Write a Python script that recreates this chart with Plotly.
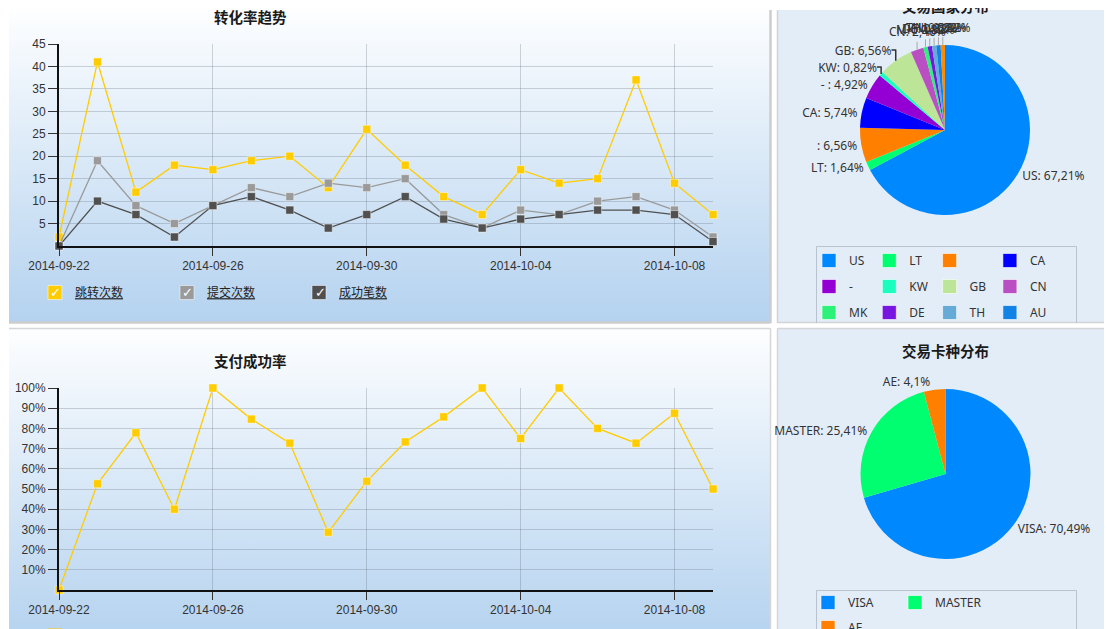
import math
import plotly.graph_objects as go

# The page adds an 8px body margin, so the figure sits at (8, 8) in the window.
PAGE_W, PAGE_H = 1112, 629
OFF = 8
W, H = PAGE_W - OFF, PAGE_H - OFF

# ---------------- data ----------------
DATES = ["2014-09-22", "2014-09-23", "2014-09-24", "2014-09-25", "2014-09-26",
         "2014-09-27", "2014-09-28", "2014-09-29", "2014-09-30", "2014-10-01",
         "2014-10-02", "2014-10-03", "2014-10-04", "2014-10-05", "2014-10-06",
         "2014-10-07", "2014-10-08", "2014-10-09"]
JUMP_COUNT = [2, 41, 12, 18, 17, 19, 20, 13, 26, 18, 11, 7, 17, 14, 15, 37, 14, 7]
SUBMIT_COUNT = [0, 19, 9, 5, 9, 13, 11, 14, 13, 15, 7, 4, 8, 7, 10, 11, 8, 2]
SUCCESS_COUNT = [0, 10, 7, 2, 9, 11, 8, 4, 7, 11, 6, 4, 6, 7, 8, 8, 7, 1]
PAY_RATE = [0, 52.6, 77.8, 40, 100, 84.6, 72.7, 28.6, 53.8, 73.3, 85.7, 100, 75, 100, 80, 72.7, 87.5, 50]

SERIES_NAMES = ["跳转次数", "提交次数", "成功笔数"]
RATE_NAME = "支付成功率"
COUNT_TICKS = [5, 10, 15, 20, 25, 30, 35, 40, 45]
RATE_TICKS = [10, 20, 30, 40, 50, 60, 70, 80, 90, 100]
RATE_TICKTEXT = ["10%", "20%", "30%", "40%", "50%", "60%", "70%", "80%", "90%", "100%"]

COUNTRY_LABELS = ["US", "LT", "", "CA", "- ", "KW", "GB", "CN", "MK", "DE", "TH", "AU", "NL"]
COUNTRY_SHARE = [67.21, 1.64, 6.56, 5.74, 4.92, 0.82, 6.56, 2.46, 0.82, 0.82, 0.82, 0.82, 0.82]
COUNTRY_COLORS = ["#0088ff", "#00ff70", "#ff7f00", "#0000ff", "#9400d3", "#1affc0",
                  "#bde597", "#b94fc2", "#2df27a", "#7716e0", "#66aad8", "#1382e6", "#ff8c00"]
CROWDED_LABELS = ["CN", "MK", "DE", "TH", "AU", "NL"]   # labels stacked above the pie top

CARD_LABELS = ["VISA", "MASTER", "AE"]
CARD_SHARE = [70.49, 25.41, 4.1]
CARD_COLORS = ["#0088ff", "#00ff70", "#ff7f00"]

TITLES = ["转化率趋势", "支付成功率", "交易国家分布", "交易卡种分布"]
LINE_COLORS = ["#ffcc00", "#9a9a9a", "#505050"]

CJK = "Noto Sans CJK SC"
LAT = "Liberation Sans"


def px(x):          # page x -> paper
    return (x - OFF) / W


def py(y):          # page y -> paper
    return 1 - (y - OFF) / H


def dy(y):          # page y -> background-axis data y
    return PAGE_H - y


fig = go.Figure()

# ---------------- panel backgrounds (background pixel axes x/y) ----------------
def panel(x0, x1, y0, y1, grad=None, color=None):
    kw = dict(x=[x0, x1, x1, x0, x0], y=[dy(y0), dy(y0), dy(y1), dy(y1), dy(y0)],
              fill="toself", mode="lines", line=dict(width=0), hoverinfo="skip",
              showlegend=False, xaxis="x", yaxis="y")
    if grad:
        kw["fillgradient"] = dict(type="vertical", colorscale=[[0, grad[1]], [1, grad[0]]],
                                  start=dy(y1), stop=dy(y0))
    else:
        kw["fillcolor"] = color
    fig.add_trace(go.Scatter(**kw))


GRAD = ("#fdfeff", "#b4d2ef")
PANEL_R = "#e3edf8"
panel(9, 770, 10, 322, grad=GRAD)
panel(9, 770, 329, 641, grad=GRAD)
panel(777, 1112, 10, 322, color=PANEL_R)
panel(777, 1112, 329, 629, color=PANEL_R)


def border(xs, ys, color, width):
    fig.add_trace(go.Scatter(x=xs, y=[None if v is None else dy(v) for v in ys], mode="lines",
                             line=dict(color=color, width=width), hoverinfo="skip",
                             showlegend=False, xaxis="x", yaxis="y"))


border([770.5, 770.5, None, 9, 770.5], [10, 323, None, 322.5, 322.5], "#cdcdcd", 2.5)
border([770.5, 770.5, None, 9, 770.5], [328.5, 629, None, 328.5, 328.5], "#d6d6d6", 1.5)
border([777.5, 777.5, None, 777.5, 1112], [10, 323, None, 322.5, 322.5], "#d3d3d3", 1.5)
border([777.5, 777.5, None, 777.5, 1112], [328.5, 629, None, 328.5, 328.5], "#d6d6d6", 1.5)
# legend boxes of the pies
border([816.5, 816.5, 1076.5, 1076.5], [323, 246.5, 246.5, 323], "#b8c3cf", 1)
border([816.5, 816.5, 1076.5, 1076.5], [629, 590.5, 590.5, 629], "#b8c3cf", 1)

# ---------------- line chart 1 ----------------
for name, vals, col in zip(SERIES_NAMES, [JUMP_COUNT, SUBMIT_COUNT, SUCCESS_COUNT], LINE_COLORS):
    fig.add_trace(go.Scatter(
        x=DATES, y=vals, name=name, mode="lines+markers", xaxis="x2", yaxis="y2",
        line=dict(color=col, width=1.3),
        marker=dict(symbol="square", size=8, color=col, line=dict(color="rgba(255,255,255,0.45)", width=1)),
        cliponaxis=False, showlegend=False))
    fig.add_trace(go.Scatter(
        x=[None], y=[None], name=name, mode="markers", xaxis="x2", yaxis="y2",
        marker=dict(symbol="square", size=14, color=col, line=dict(color="rgba(255,255,255,0.5)", width=1)),
        legend="legend", showlegend=True))

# ---------------- line chart 2 ----------------
fig.add_trace(go.Scatter(
    x=DATES, y=PAY_RATE, name=RATE_NAME, mode="lines+markers", xaxis="x3", yaxis="y3",
    line=dict(color=LINE_COLORS[0], width=1.3),
    marker=dict(symbol="square", size=8, color=LINE_COLORS[0], line=dict(color="rgba(255,255,255,0.45)", width=1)),
    cliponaxis=False, showlegend=False))
fig.add_trace(go.Scatter(
    x=[None], y=[None], name=RATE_NAME, mode="markers", xaxis="x3", yaxis="y3",
    marker=dict(symbol="square", size=14, color=LINE_COLORS[0]),
    legend="legend2", showlegend=True))

# ---------------- pies ----------------
def pie_text(labels, shares):
    return [f"{lab}: {str(v).replace('.', ',')}%" for lab, v in zip(labels, shares)]


PIE_FONT = dict(family="Noto Sans", size=12, color="#333333")
PIE1_C, PIE2_C, PIE_R = (945, 130), (945.5, 474), 85

country_text = pie_text(COUNTRY_LABELS, COUNTRY_SHARE)
country_pos = ["none" if lab in CROWDED_LABELS else "outside" for lab in COUNTRY_LABELS]
fig.add_trace(go.Pie(
    labels=COUNTRY_LABELS, values=COUNTRY_SHARE, text=country_text,
    textinfo="text", textposition=country_pos, sort=False, direction="clockwise", rotation=0,
    marker=dict(colors=COUNTRY_COLORS, line=dict(width=0)), outsidetextfont=PIE_FONT,
    domain=dict(x=[px(PIE1_C[0] - PIE_R), px(PIE1_C[0] + PIE_R)],
                y=[py(PIE1_C[1] + PIE_R), py(PIE1_C[1] - PIE_R)]),
    showlegend=False, hoverinfo="label+percent"))
fig.add_trace(go.Pie(
    labels=CARD_LABELS, values=CARD_SHARE, text=pie_text(CARD_LABELS, CARD_SHARE),
    textinfo="text", textposition="outside", sort=False, direction="clockwise", rotation=0,
    marker=dict(colors=CARD_COLORS, line=dict(width=0)), outsidetextfont=PIE_FONT,
    domain=dict(x=[px(PIE2_C[0] - PIE_R), px(PIE2_C[0] + PIE_R)],
                y=[py(PIE2_C[1] + PIE_R), py(PIE2_C[1] - PIE_R)]),
    showlegend=False, hoverinfo="label+percent"))

# pie legend entries (rows of four / two)
pie_rows = [(COUNTRY_LABELS[0:4], COUNTRY_COLORS[0:4], "legend3"),
            (COUNTRY_LABELS[4:8], COUNTRY_COLORS[4:8], "legend4"),
            (COUNTRY_LABELS[8:12], COUNTRY_COLORS[8:12], "legend5"),
            (CARD_LABELS[0:2], CARD_COLORS[0:2], "legend6"),
            (CARD_LABELS[2:3], CARD_COLORS[2:3], "legend7")]
for labs, cols, lg in pie_rows:
    for lab, col in zip(labs, cols):
        fig.add_trace(go.Scatter(
            x=[None], y=[None], name=lab if lab else " ", mode="markers", xaxis="x", yaxis="y",
            marker=dict(symbol="square", size=14, color=col, line=dict(color="rgba(255,255,255,0.6)", width=1)),
            legend=lg, showlegend=True))

# ---------------- axes ----------------
GRID = "rgba(95,105,120,0.28)"
TICKFONT = dict(family=LAT, size=12, color="#333333")
date_axis = dict(type="date", range=[DATES[0], DATES[-1]], tick0=DATES[0], dtick=4 * 86400000,
                 tickformat="%Y-%m-%d", showline=True, linecolor="#111111", linewidth=2,
                 ticks="outside", ticklen=8, tickcolor="#333333", showgrid=True, gridcolor=GRID,
                 tickfont=TICKFONT, zeroline=False, fixedrange=True, ticklabelstandoff=0)
val_axis = dict(showline=True, linecolor="#111111", linewidth=2, ticks="outside", ticklen=9,
                tickcolor="#333333", showgrid=True, gridcolor=GRID, tickfont=TICKFONT,
                zeroline=False, fixedrange=True)

fig.update_layout(
    xaxis=dict(domain=[0, 1], range=[OFF, PAGE_W], visible=False, fixedrange=True, anchor="y"),
    yaxis=dict(domain=[0, 1], range=[0, H], visible=False, fixedrange=True, anchor="x"),
    xaxis2=dict(domain=[px(59), px(713)], anchor="y2", **date_axis),
    yaxis2=dict(domain=[py(246), py(44)], anchor="x2", range=[0, 45], tickvals=COUNT_TICKS, **val_axis),
    xaxis3=dict(domain=[px(59), px(713)], anchor="y3", **date_axis),
    yaxis3=dict(domain=[py(590), py(388)], anchor="x3", range=[0, 100], tickvals=RATE_TICKS,
                ticktext=RATE_TICKTEXT, **val_axis),
)

# ---------------- legends ----------------
def legend_at(xpx, ypx, entrywidth, font):
    return dict(x=px(xpx), y=py(ypx), xanchor="left", yanchor="top", orientation="h",
                bgcolor="rgba(0,0,0,0)", borderwidth=0, entrywidth=entrywidth,
                entrywidthmode="pixels", font=font, traceorder="normal", itemclick=False,
                itemdoubleclick=False)


LEG_CJK = dict(family=CJK, size=12, color="#222222", lineposition="under")
LEG_PIE = dict(family="Noto Sans", size=12, color="#333333")
fig.update_layout(
    legend=legend_at(35, 278, 87, LEG_CJK),
    legend2=legend_at(35, 621, 87, LEG_CJK),
    legend3=legend_at(809, 246, 15.3, LEG_PIE),
    legend4=legend_at(809, 272, 15.3, LEG_PIE),
    legend5=legend_at(809, 298, 15.3, LEG_PIE),
    legend6=legend_at(808, 588, 42, LEG_PIE),
    legend7=legend_at(808, 613, 42, LEG_PIE),
)

# ---------------- titles, checkmarks, crowded pie labels ----------------
ann = []
TITLE_FONT = dict(family=CJK, size=14.5, color="#1a1a1a")
for t, (tx, ty) in zip(TITLES, [(250, 17), (250, 360), (945, 6), (945, 350)]):
    ann.append(dict(text=f"<b>{t}</b>", x=px(tx), y=py(ty), xref="paper", yref="paper",
                    showarrow=False, font=TITLE_FONT, xanchor="center", yanchor="middle"))
for cx in [55, 187, 320]:
    ann.append(dict(text="<b>✓</b>", x=px(cx), y=py(292), xref="paper", yref="paper", showarrow=False,
                    font=dict(family="DejaVu Sans", size=13, color="white"),
                    xanchor="center", yanchor="middle"))

total = sum(COUNTRY_SHARE)
cum = 0.0
for lab, v, txt in zip(COUNTRY_LABELS, COUNTRY_SHARE, country_text):
    ang = 2 * math.pi * (cum + v / 2) / total
    cum += v
    if lab not in CROWDED_LABELS:
        continue
    ex = PIE1_C[0] + PIE_R * math.sin(ang)
    ey = PIE1_C[1] - PIE_R * math.cos(ang)
    ann.append(dict(text=txt, x=px(ex), y=py(ey), xref="paper", yref="paper",
                    showarrow=True, arrowhead=0, arrowwidth=1, arrowcolor="#a8a8a8",
                    ax=0, ay=-18, standoff=0, font=PIE_FONT))

fig.update_layout(
    annotations=ann,
    width=W, height=H,
    margin=dict(l=0, r=0, t=0, b=0, autoexpand=False),
    paper_bgcolor="white", plot_bgcolor="rgba(0,0,0,0)",
    separators=", ",
    font=dict(family=LAT, size=12, color="#333333"),
    hovermode=False,
)

fig.write_html("out.html", config={"displayModeBar": False})
